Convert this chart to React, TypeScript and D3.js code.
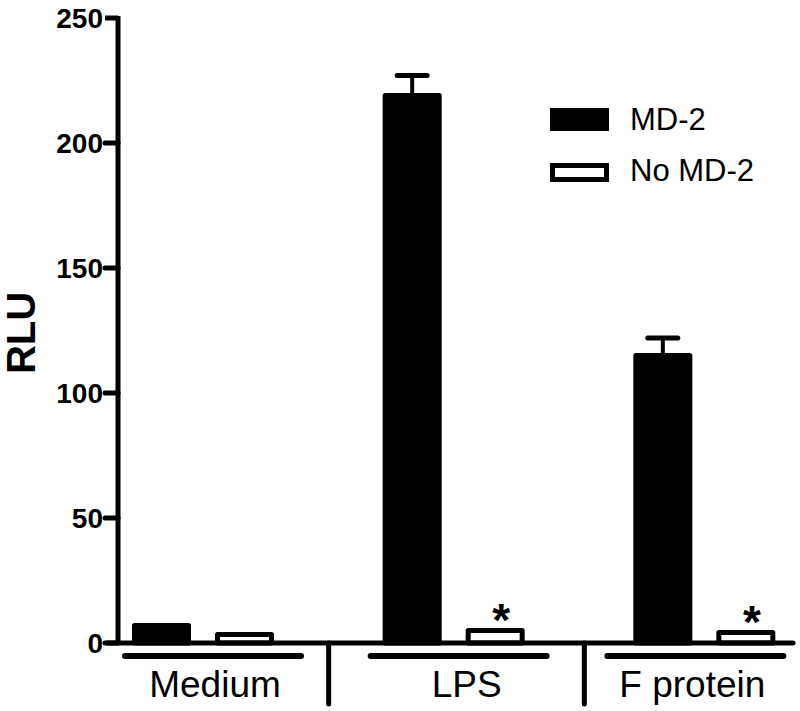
import React, { useEffect, useRef } from "react";
import * as d3 from "d3";

const groups = ["Medium", "LPS", "F protein"];
const series = ["MD-2", "No MD-2"];
const md2Values = [7, 219, 115];
const md2Errors = [0, 8, 7];
const noMd2Values = [3.4, 5, 4.2];
const noMd2Errors = [0, 0, 0];
const significant = [false, true, true];
const yTicks = [0, 50, 100, 150, 200, 250];
const yLabel = "RLU";

const FONT = "'Liberation Sans', Arial, Helvetica, sans-serif";

export default function App() {
  const ref = useRef<SVGSVGElement>(null);

  useEffect(() => {
    const svg = d3.select(ref.current);
    svg.selectAll("*").remove();

    const y = d3.scaleLinear().domain([0, 250]).range([643, 18]);
    const x = d3.scaleBand<string>().domain(groups).range([78, 830]).paddingInner(0).paddingOuter(0);
    const xs = d3.scaleBand<string>().domain(series).range([54, 196]).paddingInner(0.289).paddingOuter(0);

    const axisX = 118;
    const sw = 5;

    const data = groups.map((g, i) => ({
      g,
      i,
      vals: [
        { s: series[0], v: md2Values[i], e: md2Errors[i] },
        { s: series[1], v: noMd2Values[i], e: noMd2Errors[i] },
      ],
    }));

    // bars
    data.forEach((d) => {
      d.vals.forEach((b) => {
        const x0 = (x(d.g) as number) + (xs(b.s) as number);
        const w = xs.bandwidth();
        const filled = b.s === series[0];
        if (b.e > 0) {
          const cx = x0 + w / 2;
          svg.append("line")
            .attr("x1", cx).attr("x2", cx)
            .attr("y1", y(b.v)).attr("y2", y(b.v + b.e))
            .attr("stroke", "#000").attr("stroke-width", 4);
          svg.append("line")
            .attr("x1", cx - 15).attr("x2", cx + 15)
            .attr("y1", y(b.v + b.e)).attr("y2", y(b.v + b.e))
            .attr("stroke", "#000").attr("stroke-width", 5)
            .attr("stroke-linecap", "round");
        }
        svg.append("rect")
          .attr("x", x0 + sw / 2)
          .attr("width", w - sw)
          .attr("y", y(b.v))
          .attr("height", y(0) - y(b.v))
          .attr("fill", filled ? "#000" : "#fff")
          .attr("stroke", "#000")
          .attr("stroke-width", sw)
          .attr("stroke-linejoin", "round");
      });
      if (significant[d.i]) {
        const x0 = (x(d.g) as number) + (xs(series[1]) as number) + xs.bandwidth() / 2;
        svg.append("text")
          .attr("x", x0 + 6)
          .attr("y", y(d.vals[1].v) + 5.5)
          .attr("text-anchor", "middle")
          .attr("font-family", FONT)
          .attr("font-weight", "bold")
          .attr("font-size", 46)
          .text("*");
      }
    });

    // y axis
    svg.append("line")
      .attr("x1", axisX).attr("x2", axisX)
      .attr("y1", y(250) - 2).attr("y2", y(0))
      .attr("stroke", "#000").attr("stroke-width", sw);
    yTicks.forEach((t) => {
      svg.append("line")
        .attr("x1", axisX - 13).attr("x2", axisX)
        .attr("y1", y(t)).attr("y2", y(t))
        .attr("stroke", "#000").attr("stroke-width", 5)
        .attr("stroke-linecap", t === 250 ? "butt" : "round");
      svg.append("text")
        .attr("x", axisX - 15)
        .attr("y", y(t) + 10)
        .attr("text-anchor", "end")
        .attr("font-family", FONT)
        .attr("font-weight", "bold")
        .attr("font-size", 28)
        .text(String(t));
    });

    // x axis
    svg.append("line")
      .attr("x1", axisX - 11).attr("x2", 793)
      .attr("y1", y(0)).attr("y2", y(0))
      .attr("stroke", "#000").attr("stroke-width", sw)
      .attr("stroke-linecap", "round");

    // separators between groups
    groups.slice(1).forEach((g, k) => {
      const sx = (x(g) as number) + (k === 1 ? 5 : 0);
      svg.append("line")
        .attr("x1", sx).attr("x2", sx)
        .attr("y1", y(0)).attr("y2", 704)
        .attr("stroke", "#000").attr("stroke-width", sw)
        .attr("stroke-linecap", "round");
    });

    // group underlines and labels
    const shifts = [10, 5, -9];
    groups.forEach((g, i) => {
      const c = (x(g) as number) + 125 + shifts[i];
      svg.append("line")
        .attr("x1", c - 88).attr("x2", c + 88)
        .attr("y1", 656).attr("y2", 656)
        .attr("stroke", "#000").attr("stroke-width", 6)
        .attr("stroke-linecap", "round");
      svg.append("text")
        .attr("x", c + (i === 1 ? 8 : i === 0 ? 2 : -3))
        .attr("y", 697)
        .attr("text-anchor", "middle")
        .attr("font-family", FONT)
        .attr("font-size", 37)
        .text(g);
    });

    // y label
    svg.append("text")
      .attr("transform", "translate(35,333) rotate(-90)")
      .attr("text-anchor", "middle")
      .attr("font-family", FONT)
      .attr("font-weight", "bold")
      .attr("font-size", 40)
      .text(yLabel);

    // legend
    const legendRows = [
      { label: series[0], fill: "#000", top: 108, h: 23 },
      { label: series[1], fill: "#fff", top: 163, h: 19 },
    ];
    legendRows.forEach((r) => {
      svg.append("rect")
        .attr("x", 550 + sw / 2)
        .attr("y", r.top + sw / 2)
        .attr("width", 59 - sw)
        .attr("height", r.h - sw)
        .attr("fill", r.fill)
        .attr("stroke", "#000")
        .attr("stroke-width", sw);
      svg.append("text")
        .attr("x", 630)
        .attr("y", r.top + r.h - 1)
        .attr("font-family", FONT)
        .attr("font-size", 31)
        .text(r.label);
    });
  }, []);

  return (
    <svg
      ref={ref}
      width={800}
      height={711}
      style={{ position: "absolute", left: 0, top: 0, background: "#fff" }}
    />
  );
}
